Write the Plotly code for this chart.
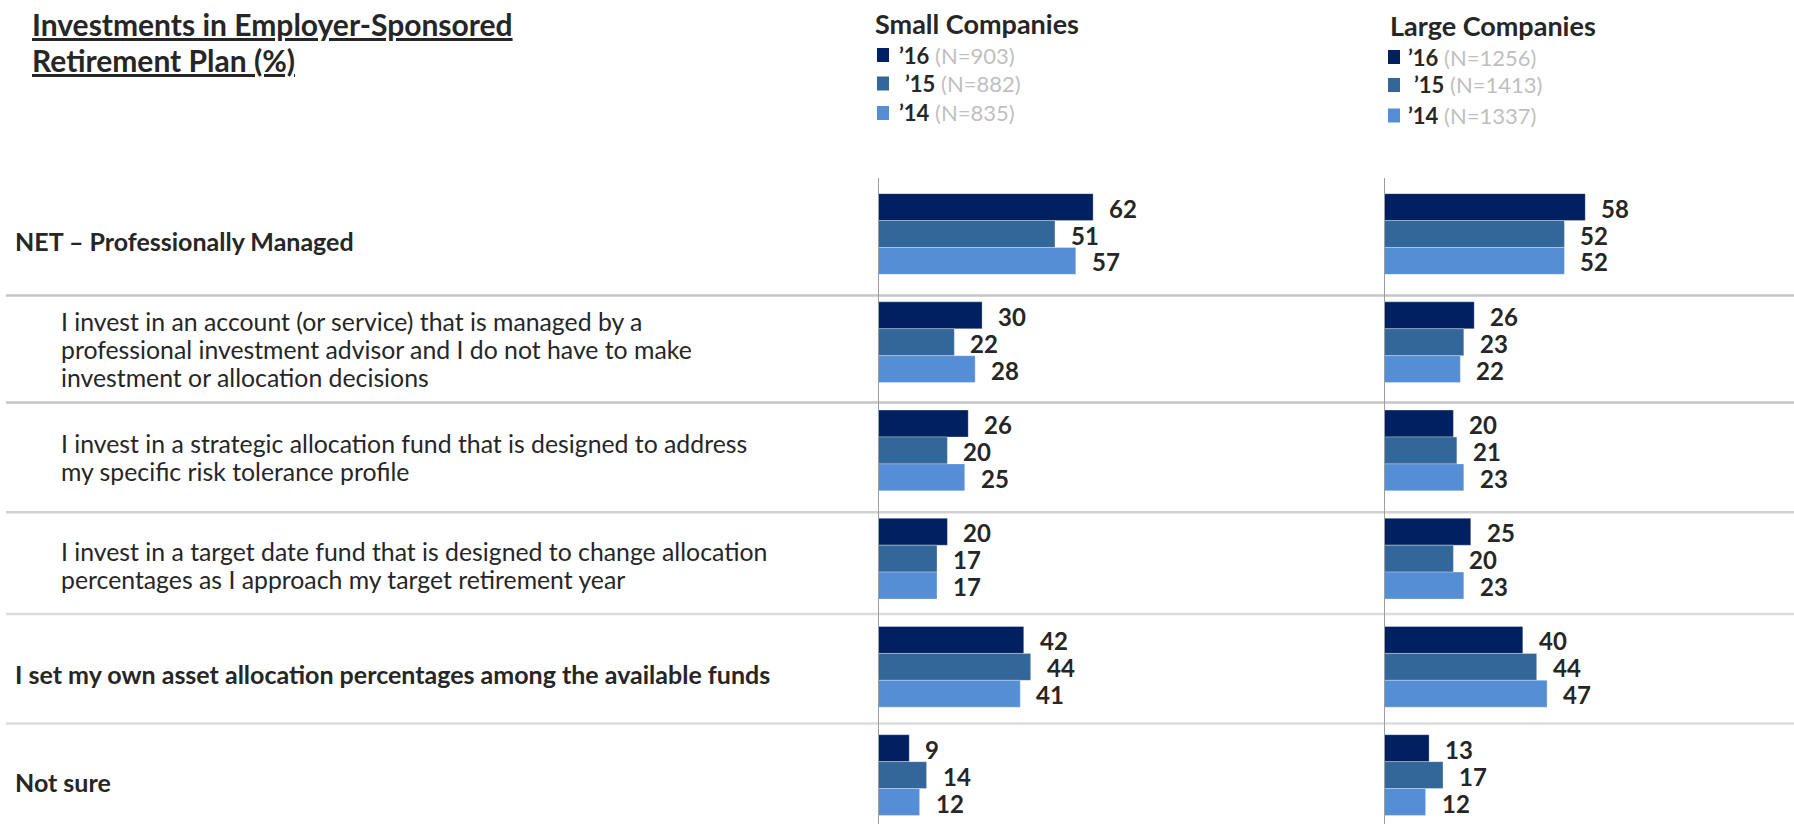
import plotly.graph_objects as go

W, H = 1794, 824
PLOT_TOP = 178

categories = [
    ["NET – Professionally Managed"],
    ["I invest in an account (or service) that is managed by a",
     "professional investment advisor and I do not have to make",
     "investment or allocation decisions"],
    ["I invest in a strategic allocation fund that is designed to address",
     "my specific risk tolerance profile"],
    ["I invest in a target date fund that is designed to change allocation",
     "percentages as I approach my target retirement year"],
    ["I set my own asset allocation percentages among the available funds"],
    ["Not sure"],
]
category_bold = [True, False, False, False, True, True]

years = ["’16", "’15", "’14"]
small_n = ["903", "882", "835"]
large_n = ["1256", "1413", "1337"]

small_16 = [62, 30, 26, 20, 42, 9]
small_15 = [51, 22, 20, 17, 44, 14]
small_14 = [57, 28, 25, 17, 41, 12]
large_16 = [58, 26, 20, 25, 40, 13]
large_15 = [52, 23, 21, 20, 44, 17]
large_14 = [52, 22, 23, 23, 47, 12]

colors = ["#00205F", "#336699", "#558ED5"]
FONT = "Lato"
TXT = "#262626"

ypos = list(range(len(categories)))
BARGAP = 0.254
bar_w = (1 - BARGAP) / 3

fig = go.Figure()

def px_x(p):
    return p / W

def px_y(p):
    return (H - p) / (H - PLOT_TOP)

annotations = []
series = [
    ("x", "y", [small_16, small_15, small_14]),
    ("x2", "y2", [large_16, large_15, large_14]),
]
for xa, ya, vals in series:
    for k, v in enumerate(vals):
        fig.add_trace(go.Bar(
            x=v, y=ypos, orientation="h", xaxis=xa, yaxis=ya,
            marker=dict(color=colors[k], line=dict(color="rgba(255,255,255,0.3)", width=1)),
            showlegend=False, hoverinfo="skip",
        ))
        for i, val in enumerate(v):
            annotations.append(dict(
                text=f"<b>{val}</b>", xref=xa, yref=ya, x=val, y=i + (k - 1) * bar_w,
                xanchor="left", yanchor="middle", xshift=14, yshift=-1, showarrow=False,
                font=dict(family=FONT, size=24, color=TXT),
            ))

scale = 3.47
sx0, sx1 = 878, 1350
lx0, lx1 = 1384, 1794
yr = [5.452, -0.5175]
fig.update_layout(
    width=W, height=H,
    margin=dict(l=0, r=0, t=PLOT_TOP, b=0),
    plot_bgcolor="white", paper_bgcolor="white",
    barmode="group", bargap=BARGAP, bargroupgap=0,
    xaxis=dict(domain=[sx0 / W, sx1 / W], range=[0, (sx1 - sx0) / scale], visible=False),
    xaxis2=dict(domain=[lx0 / W, lx1 / W], range=[0, (lx1 - lx0) / scale], visible=False),
    yaxis=dict(range=yr, visible=False, anchor="x"),
    yaxis2=dict(range=yr, visible=False, anchor="x2", matches="y"),
    font=dict(family=FONT, color=TXT),
)

shapes = []
sep_pos = [0.569, 1.558, 2.572, 3.512, 4.523]
sep_col = ["#C6C6C6", "#C6C6C6", "#D2D2D2", "#DCDCDC", "#DCDCDC"]
for yv, col in zip(sep_pos, sep_col):
    shapes.append(dict(type="line", xref="paper", yref="y", x0=6 / W, x1=1, y0=yv, y1=yv,
                       line=dict(color=col, width=2.5), layer="below"))
for xr in ["x", "x2"]:
    shapes.append(dict(type="line", xref=xr, yref="paper", x0=0, x1=0, y0=0, y1=1,
                       line=dict(color="#9A9DA2", width=2)))

LINE_H = 28
for i, (lines, b) in enumerate(zip(categories, category_bold)):
    n = len(lines)
    for j, ln in enumerate(lines):
        annotations.append(dict(
            text=f"<b>{ln}</b>" if b else ln, xref="paper", yref="y",
            x=(13 if b else 59) / W, y=i, yshift=-(7 + (j - (n - 1) / 2) * LINE_H),
            xanchor="left", yanchor="middle", align="left",
            showarrow=False, font=dict(family=FONT, size=24.8 if not b else 25, color=TXT),
        ))

title_lines = ["Investments in Employer-Sponsored", "Retirement Plan (%)"]
for j, (tl, ty) in enumerate(zip(title_lines, [24, 59.5])):
    annotations.append(dict(
        text=f"<b><u>{tl}</u></b>", xref="paper", yref="paper", x=px_x(30), y=px_y(ty),
        xanchor="left", yanchor="middle", align="left",
        showarrow=False, font=dict(family=FONT, size=30, color=TXT),
    ))

legend_blocks = [
    ("Small Companies", 873, 24, 877, 897, [55, 83.5, 113], small_n),
    ("Large Companies", 1388, 26, 1388, 1406, [57, 85, 115.5], large_n),
]
for title, tx, ty, sqx, textx, rows, ns in legend_blocks:
    annotations.append(dict(
        text=f"<b>{title}</b>", xref="paper", yref="paper", x=px_x(tx), y=px_y(ty),
        xanchor="left", yanchor="middle", showarrow=False, font=dict(family=FONT, size=27, color=TXT),
    ))
    for k, (yr_, n) in enumerate(zip(years, ns)):
        ry = rows[k]
        shapes.append(dict(type="rect", xref="paper", yref="paper",
                           x0=px_x(sqx), x1=px_x(sqx + 12), y0=px_y(ry + 7), y1=px_y(ry - 7),
                           fillcolor=colors[k], line=dict(width=0)))
        annotations.append(dict(
            text=f"<b>{yr_}</b> <span style='color:#BFBFBF'>(N={n})</span>",
            xref="paper", yref="paper", x=px_x(textx + (6 if k == 1 else 0)), y=px_y(ry),
            xanchor="left", yanchor="middle", showarrow=False,
            font=dict(family=FONT, size=22, color=TXT),
        ))

fig.update_layout(shapes=shapes, annotations=annotations)
fig.write_html(
    "out.html",
    config={"displayModeBar": False},
    post_script="document.body.style.margin='0px';document.body.style.overflow='hidden';",
)
